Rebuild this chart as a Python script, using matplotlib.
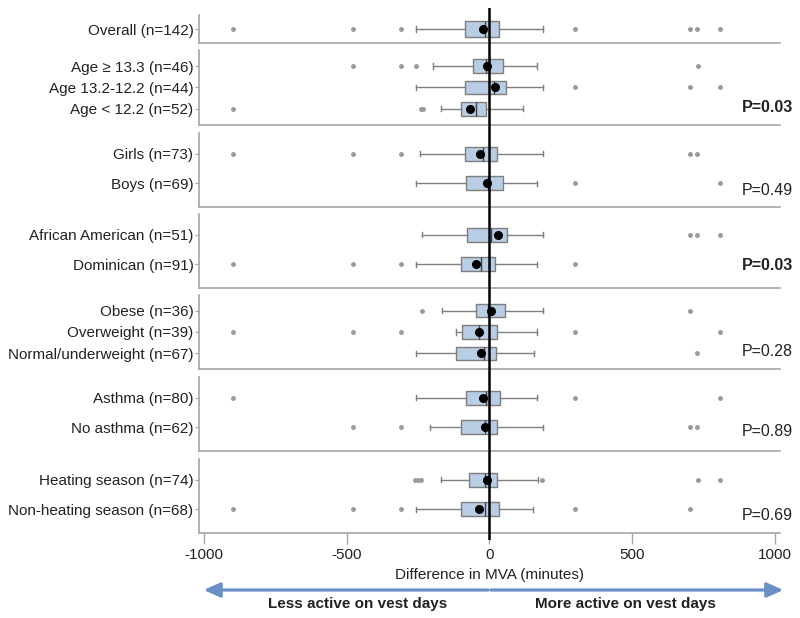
"""Box plots of the MVA difference (vest days minus non-vest days) by subgroup."""

import matplotlib
matplotlib.use("Agg")
import matplotlib.pyplot as plt
from matplotlib.transforms import blended_transform_factory

plt.rcParams["font.family"] = ["Liberation Sans", "DejaVu Sans"]
plt.rcParams["font.size"] = 11

# ---- data (minutes) ----
labels = [
    "Overall (n=142)",
    "Age \u2265 13.3 (n=46)", "Age 13.2-12.2 (n=44)", "Age < 12.2 (n=52)",
    "Girls (n=73)", "Boys (n=69)",
    "African American (n=51)", "Dominican (n=91)",
    "Obese (n=36)", "Overweight (n=39)", "Normal/underweight (n=67)",
    "Asthma (n=80)", "No asthma (n=62)",
    "Heating season (n=74)", "Non-heating season (n=68)",
]
group_sizes = [1, 3, 2, 2, 3, 2, 2]

q1 = [-86, -57, -86, -99, -86, -82, -79, -100, -46, -95, -116, -83, -100, -71, -100]
med = [-17, -12, 15, -46, -22, -6, 6, -29, -6, -37, -20, -12, -16, -17, -15]
q3 = [33, 48, 57, -13, 27, 48, 62, 20, 53, 27, 23, 37, 27, 27, 35]
whislo = [-257, -197, -257, -169, -244, -257, -238, -257, -167, -116, -257, -257, -207, -169, -257]
whishi = [187, 167, 187, 117, 187, 167, 187, 167, 187, 167, 156, 167, 187, 170, 153]
means = [-22, -10, 20, -67, -34, -10, 30, -49, 6, -36, -29, -24, -16, -8, -37]
fliers = [
    [-900, -477, -311, 300, 702, 727, 809],
    [-477, -311, -257, 729],
    [300, 702, 809],
    [-900, -240, -232],
    [-900, -477, -311, 702, 727],
    [300, 809],
    [702, 727, 809],
    [-900, -477, -311, 300],
    [-237, 702],
    [-900, -477, -311, 300, 809],
    [727],
    [-900, 300, 809],
    [-477, -311, 702, 727],
    [-262, -250, -240, 184, 730, 809],
    [-900, -477, -311, 300, 702],
]
p_values = [None, "P=0.03", "P=0.49", "P=0.03", "P=0.28", "P=0.89", "P=0.69"]
p_bold = [False, True, False, True, False, False, False]

x_ticks = [-1000, -500, 0, 500, 1000]

# ---- layout (pixels of an 800 x 618 figure) ----
W, H = 800, 618
left_px, right_px = 199, 780
panels_px = [(15, 43), (50, 125), (133, 207), (214, 288), (295, 369), (377, 451), (459, 533)]
p_text_px = [None, 108, 191, 266, 352, 431, 516]
XLIM = (-1018, 1018)

box_face = "#b9cde5"
edge_gray = "#7f7f7f"
spine_gray = "#a6a6a6"
arrow_blue = "#6b90c6"

fig = plt.figure(figsize=(W / 100, H / 100), dpi=100)


def px_rect(top, bottom):
    return [left_px / W, 1 - bottom / H, (right_px - left_px) / W, (bottom - top) / H]


# per-panel geometry depends on number of rows
ylims = {1: (0.5, -0.5), 2: (1.8, -0.7), 3: (2.75, -0.75)}
box_w = {1: 0.54, 2: 0.47, 3: 0.62}
cap_w = {1: 0.2, 2: 0.17, 3: 0.24}

axes = []
start = 0
for g, n in enumerate(group_sizes):
    top, bottom = panels_px[g]
    ax = fig.add_axes(px_rect(top, bottom))
    idx = range(start, start + n)
    stats = [
        dict(med=med[i], q1=q1[i], q3=q3[i], whislo=whislo[i], whishi=whishi[i],
             fliers=fliers[i], mean=means[i], label=labels[i])
        for i in idx
    ]
    ax.bxp(
        stats, positions=list(range(n)), widths=box_w[n], capwidths=cap_w[n],
        orientation="horizontal", patch_artist=True, showmeans=True,
        boxprops=dict(facecolor=box_face, edgecolor=edge_gray, linewidth=1.0),
        whiskerprops=dict(color=edge_gray, linewidth=1.0),
        capprops=dict(color=edge_gray, linewidth=1.0),
        medianprops=dict(color="#404040", linewidth=1.0),
        meanprops=dict(marker="o", markerfacecolor="black", markeredgecolor="black", markersize=5.5),
        flierprops=dict(marker="o", markerfacecolor="#9a9a9a", markeredgecolor="#9a9a9a", markersize=2.5),
    )
    ax.set_xlim(*XLIM)
    ax.set_ylim(*ylims[n])
    ax.set_yticks(range(n))
    ax.set_yticklabels(labels[start:start + n], color="#222222")
    ax.tick_params(axis="y", length=3, width=0.8, color=spine_gray, pad=1)
    for s in ("top", "right"):
        ax.spines[s].set_visible(False)
    for s in ("left", "bottom"):
        ax.spines[s].set_color(spine_gray)
        ax.spines[s].set_linewidth(1.2)
    ax.set_xticks(x_ticks)
    ax.tick_params(axis="x", bottom=False, labelbottom=False)
    if p_values[g]:
        ax.text(793 / W, 1 - p_text_px[g] / H, p_values[g], transform=fig.transFigure,
                ha="right", va="center", fontsize=11.5,
                fontweight="bold" if p_bold[g] else "normal", color="#222222")
    axes.append(ax)
    start += n

# bottom panel carries the x axis
axb = axes[-1]
axb.tick_params(axis="x", bottom=True, labelbottom=True, length=8, width=1.0,
                color=spine_gray, pad=3, labelsize=11, labelcolor="#222222")
axb.set_xticklabels([f"{t}" for t in x_ticks])
axb.set_xlabel("Difference in MVA (minutes)", fontsize=11, color="#222222", labelpad=4)

# zero reference line running through all panels
ax_zero = fig.add_axes(px_rect(8, 540))
ax_zero.set_xlim(*XLIM)
ax_zero.axvline(0, color="black", linewidth=1.8)
ax_zero.axis("off")

# direction arrows and captions under the x axis
tr = blended_transform_factory(axb.transData, fig.transFigure)
arrow_y = 1 - 590 / H
for tip in (-1002, 1030):
    axb.annotate("", xy=(tip, arrow_y), xytext=(0, arrow_y), xycoords=tr, textcoords=tr,
                 arrowprops=dict(arrowstyle="-|>,head_length=0.9,head_width=0.4",
                                 color=arrow_blue, linewidth=2.3, shrinkA=1, shrinkB=0),
                 annotation_clip=False)
fig.text(-462, 1 - 604 / H, "Less active on vest days", transform=tr,
         ha="center", va="center", fontsize=11, fontweight="bold", color="#222222")
fig.text(476, 1 - 604 / H, "More active on vest days", transform=tr,
         ha="center", va="center", fontsize=11, fontweight="bold", color="#222222")

fig.savefig("out.png", dpi=100)
